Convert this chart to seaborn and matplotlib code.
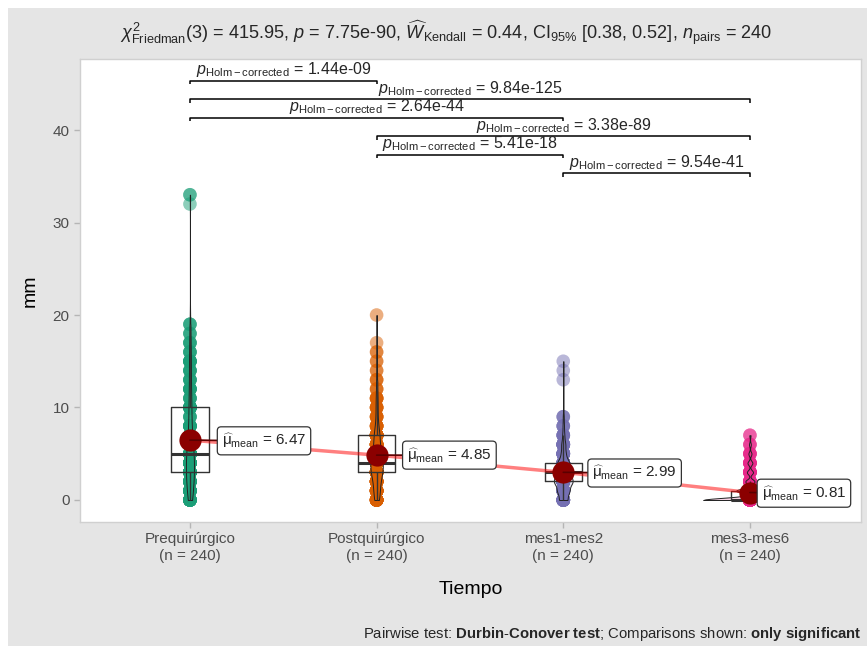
import numpy as np
import pandas as pd
import matplotlib
matplotlib.use("Agg")
import matplotlib.pyplot as plt
import seaborn as sns
from matplotlib.patches import Rectangle

# ---------------- data ----------------
categories = ["Prequirúrgico", "Postquirúrgico", "mes1-mes2", "mes3-mes6"]
palette = ["#1B9E77", "#D95F02", "#7570B3", "#E7298A"]

pre_values = [0, 1, 2, 3, 4, 5, 6, 7, 8, 9, 10, 11, 12, 13, 14, 15, 16, 17, 18, 19, 32, 33]
pre_counts = [18, 19, 22, 25, 24, 30, 14, 12, 10, 4, 15, 5, 7, 5, 5, 8, 4, 4, 3, 3, 1, 2]

post_values = [0, 1, 2, 3, 4, 5, 6, 7, 8, 9, 10, 11, 12, 13, 14, 15, 16, 17, 20]
post_counts = [18, 19, 20, 36, 44, 25, 16, 22, 8, 6, 6, 6, 3, 3, 2, 2, 2, 1, 1]

m12_values = [0, 1, 2, 3, 4, 5, 6, 7, 8, 9, 13, 14, 15]
m12_counts = [24, 35, 54, 50, 35, 14, 12, 6, 4, 3, 1, 1, 1]

m36_values = [0, 1, 2, 3, 4, 5, 6, 7]
m36_counts = [152, 45, 15, 10, 8, 5, 3, 2]

pair_groups = [(0, 1), (0, 3), (0, 2), (1, 3), (1, 2), (2, 3)]
pair_pvalues = ["1.44e-09", "9.84e-125", "2.64e-44", "3.38e-89", "5.41e-18", "9.54e-41"]
pair_heights = [45.35, 43.35, 41.35, 39.35, 37.35, 35.35]

title_text = (r"$\chi^2_{\mathrm{Friedman}}(3)$ = 415.95, $p$ = 7.75e-90, "
              r"$\widehat{W}_{\mathrm{Kendall}}$ = 0.44, CI$_{95\%}$ [0.38, 0.52], "
              r"$n_{\mathrm{pairs}}$ = 240")
caption_text = (r"Pairwise test: $\mathbf{Durbin}$-$\mathbf{Conover\ test}$; "
                r"Comparisons shown: $\mathbf{only\ significant}$")

# ---------------- build table ----------------
groups = [(pre_values, pre_counts), (post_values, post_counts),
          (m12_values, m12_counts), (m36_values, m36_counts)]
rows = []
for cat, (vals, cnts) in zip(categories, groups):
    for v, c in zip(vals, cnts):
        rows += [(cat, v)] * c
df = pd.DataFrame(rows, columns=["Tiempo", "mm"])
df["Tiempo"] = pd.Categorical(df["Tiempo"], categories=categories, ordered=True)

# ---------------- style ----------------
sns.set_theme(style="white")
plt.rcParams["font.family"] = ["Liberation Sans", "DejaVu Sans"]
plt.rcParams["mathtext.fontset"] = "custom"
plt.rcParams["mathtext.rm"] = "Liberation Sans"
plt.rcParams["mathtext.it"] = "Liberation Sans:italic"
plt.rcParams["mathtext.bf"] = "Liberation Sans:bold"

W, H = 867, 651
fig = plt.figure(figsize=(W / 100, H / 100), dpi=100)
fig.patch.set_facecolor("white")
fig.patches.append(Rectangle((8 / W, 5 / H), (W - 8) / W, (646 - 8) / H,
                             transform=fig.transFigure, facecolor="#e5e5e5",
                             edgecolor="none", zorder=-10))
ax = fig.add_axes([80 / W, (H - 522) / H, (861 - 80) / W, (522 - 59) / H])
ax.set_facecolor("white")


def nrd0(kde):
    x = np.asarray(kde.dataset).ravel()
    sd = np.std(x, ddof=1)
    q75, q25 = np.percentile(x, [75, 25])
    lo = min(sd, (q75 - q25) / 1.34)
    if lo == 0:
        lo = sd if sd > 0 else 1.0
    return 0.9 * lo * len(x) ** -0.2 / sd


# points
sns.stripplot(data=df, x="Tiempo", y="mm", hue="Tiempo", palette=palette,
              jitter=False, size=9.8, alpha=0.5, linewidth=0, legend=False,
              ax=ax, zorder=1)

# violins
nb = len(ax.collections)
sns.violinplot(data=df, x="Tiempo", y="mm", hue="Tiempo", palette=palette,
               width=0.5, density_norm="area", common_norm=True, cut=0, inner=None,
               bw_method=nrd0, linewidth=0.7, linecolor="#222222",
               legend=False, ax=ax)
for coll, col in zip(ax.collections[nb:], palette):
    coll.set_facecolor(matplotlib.colors.to_rgba(col, 0.2))
    coll.set_edgecolor("#222222")
    coll.set_zorder(2)

# boxes
nl = len(ax.lines)
sns.boxplot(data=df, x="Tiempo", y="mm", width=0.2, fill=False,
            color="#333333", showfliers=False, showcaps=False, whis=1.5,
            linewidth=1.0, medianprops=dict(linewidth=2.2), ax=ax)
for ln in ax.lines[nl:]:
    ln.set_zorder(3)
for p in ax.patches:
    p.set_zorder(3)

# means
pos = np.arange(len(categories))
means = df.groupby("Tiempo", observed=True)["mm"].mean().reindex(categories).values
ns = df.groupby("Tiempo", observed=True)["mm"].size().reindex(categories).values
ax.plot(pos, means, color="red", alpha=0.5, lw=2.5, zorder=4, solid_capstyle="butt")
ax.scatter(pos, means, s=16 ** 2, color="#8B0000", zorder=5, linewidths=0)

label_offsets = [(23, -0.5), (22, 0), (21, -0.5), (8.5, -0.5)]
for x, m, (dx, dy) in zip(pos, means, label_offsets):
    ax.annotate(r"$\widehat{\mathrm{\mu}}_{\mathrm{mean}}$" + " = {:.2f}".format(m),
                xy=(x, m), xytext=(dx, dy), textcoords="offset points",
                ha="left", va="center", fontsize=11, zorder=6,
                bbox=dict(boxstyle="round,pad=0.3,rounding_size=0.25",
                          fc="white", ec="#333333", lw=0.9),
                arrowprops=dict(arrowstyle="-", color="#5a0000", lw=1.2,
                                shrinkA=0, shrinkB=0))

# significance brackets
tip = 0.4
for (a, b), ptxt, yv in zip(pair_groups, pair_pvalues, pair_heights):
    ax.plot([a, a, b, b], [yv - tip, yv, yv, yv - tip], color="black", lw=1.1,
            zorder=3, solid_capstyle="butt")
    ax.text((a + b) / 2, yv + 0.15, r"$p_{\mathrm{Holm-corrected}}$" + " = " + ptxt,
            ha="center", va="bottom", fontsize=11.5, zorder=6)

# axes
ax.set_xlim(-0.589, 3.595)
ax.set_ylim(-2.38, 47.68)
ax.set_yticks([0, 10, 20, 30, 40])
ax.set_xticks(pos)
ax.set_xticklabels(["{}\n(n = {})".format(c, n) for c, n in zip(categories, ns)])
ax.tick_params(axis="both", which="both", colors="#b5b5b5", labelcolor="#4d4d4d",
               labelsize=11, length=4, width=1, left=True, bottom=True)
for s in ax.spines.values():
    s.set_color("#d0d0d0")
    s.set_linewidth(1)
ax.set_xlabel("Tiempo", fontsize=14, color="black")
ax.set_ylabel("mm", fontsize=14, color="black")
ax.xaxis.set_label_coords(0.5, (522 - 590) / 463)
ax.xaxis.label.set_va("center")
ax.yaxis.set_label_coords((30 - 80) / 781, 0.5)
ax.yaxis.label.set_va("center")

fig.text(120 / W, 1 - 33 / H, title_text, ha="left", va="center", fontsize=13.1)
fig.text(862 / W, 1 - 634 / H, caption_text, ha="right", va="center", fontsize=10.7)

fig.savefig("out.png", dpi=100, facecolor=fig.get_facecolor())
